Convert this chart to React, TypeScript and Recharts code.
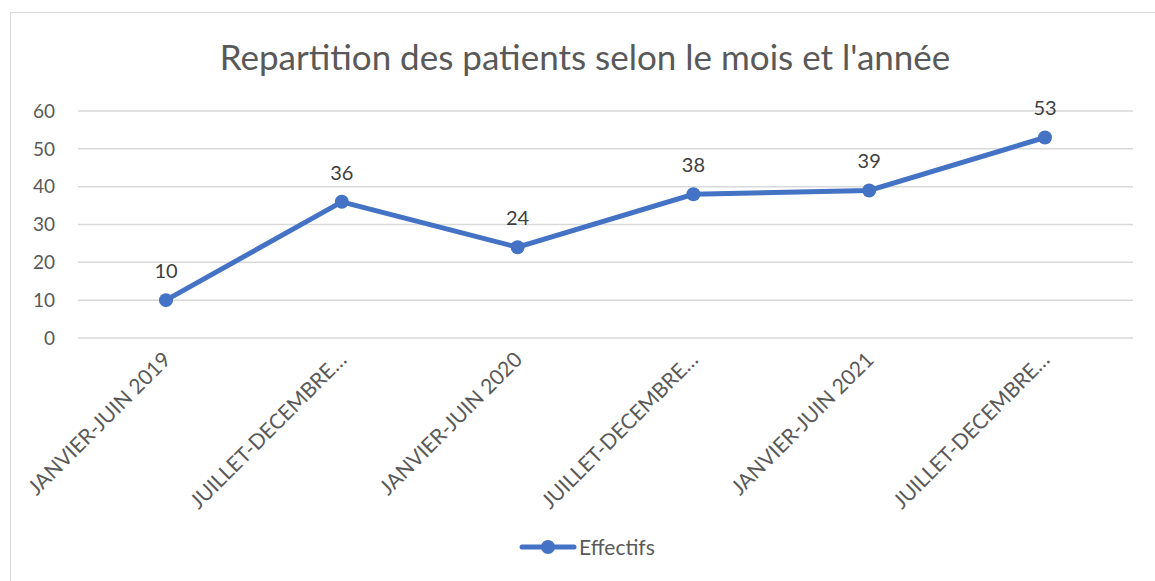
import { LineChart, Line, XAxis, YAxis, CartesianGrid, LabelList } from 'recharts'

const categories = [
  'JANVIER-JUIN 2019',
  'JUILLET-DECEMBRE 2019',
  'JANVIER-JUIN 2020',
  'JUILLET-DECEMBRE 2020',
  'JANVIER-JUIN 2021',
  'JUILLET-DECEMBRE 2021',
]
const effectifs = [10, 36, 24, 38, 39, 53]
const yTicks = [0, 10, 20, 30, 40, 50, 60]

const FONT = 'Lato, "Open Sans", sans-serif'
const BLUE = '#4472C4'
const TEXT = '#595959'

const data = categories.map((name, i) => ({ name, value: effectifs[i] }))

// Excel cuts the long labels with an ellipsis
function shortLabel(s: string) {
  return s.length > 17 ? s.slice(0, 16) + '…' : s
}

function XTick({ x, y, payload }: any) {
  return (
    <text
      x={x + 6}
      y={y + 15}
      textAnchor="end"
      transform={`rotate(-45 ${x + 6} ${y + 15})`}
      fill={TEXT}
      fontSize={21}
      fontFamily={FONT}
    >
      {shortLabel(payload.value)}
    </text>
  )
}

function Legend() {
  return (
    <div
      style={{
        position: 'absolute',
        top: 534,
        left: 519,
        display: 'flex',
        alignItems: 'center',
        fontFamily: FONT,
        fontSize: 21,
        color: TEXT,
      }}
    >
      <svg width={58} height={24}>
        <line x1={3} y1={12} x2={55} y2={12} stroke={BLUE} strokeWidth={5} strokeLinecap="round" />
        <circle cx={29} cy={12} r={7} fill={BLUE} />
      </svg>
      <span style={{ marginLeft: 2 }}>Effectifs</span>
    </div>
  )
}

export default function App() {
  return (
    <div
      style={{
        position: 'absolute',
        left: 0,
        top: 0,
        width: 1155,
        height: 581,
        overflow: 'hidden',
        background: '#fff',
      }}
    >
      <div
        style={{
          position: 'absolute',
          left: 10,
          top: 12,
          width: 1200,
          height: 640,
          border: '1.5px solid #d9d9d9',
        }}
      />
      <div
        style={{
          position: 'absolute',
          top: 35,
          left: 0,
          width: 1170,
          textAlign: 'center',
          fontFamily: FONT,
          fontSize: 35,
          color: TEXT,
        }}
      >
        Repartition des patients selon le mois et l'année
      </div>
      <div style={{ position: 'absolute', left: 0, top: 0 }}>
        <LineChart
          width={1155}
          height={581}
          data={data}
          margin={{ top: 111, right: 22, bottom: 93, left: 0 }}
        >
          <CartesianGrid vertical={false} stroke="#d9d9d9" strokeWidth={1.5} />
          <XAxis
            dataKey="name"
            axisLine={false}
            tickLine={false}
            tick={<XTick />}
            interval={0}
            height={150}
            padding={{ left: 88, right: 88 }}
          />
          <YAxis
            domain={[0, 60]}
            ticks={yTicks}
            width={78}
            axisLine={false}
            tickLine={false}
            tickMargin={17}
            tick={{ fill: TEXT, fontSize: 19, fontFamily: FONT }}
          />
          <Line
            type="linear"
            dataKey="value"
            stroke={BLUE}
            strokeWidth={5}
            dot={{ r: 7, fill: BLUE, stroke: BLUE, strokeWidth: 0 }}
            isAnimationActive={false}
          >
            <LabelList
              dataKey="value"
              position="top"
              offset={22}
              fill="#404040"
              fontSize={20}
              fontFamily={FONT}
            />
          </Line>
        </LineChart>
      </div>
      <Legend />
    </div>
  )
}
